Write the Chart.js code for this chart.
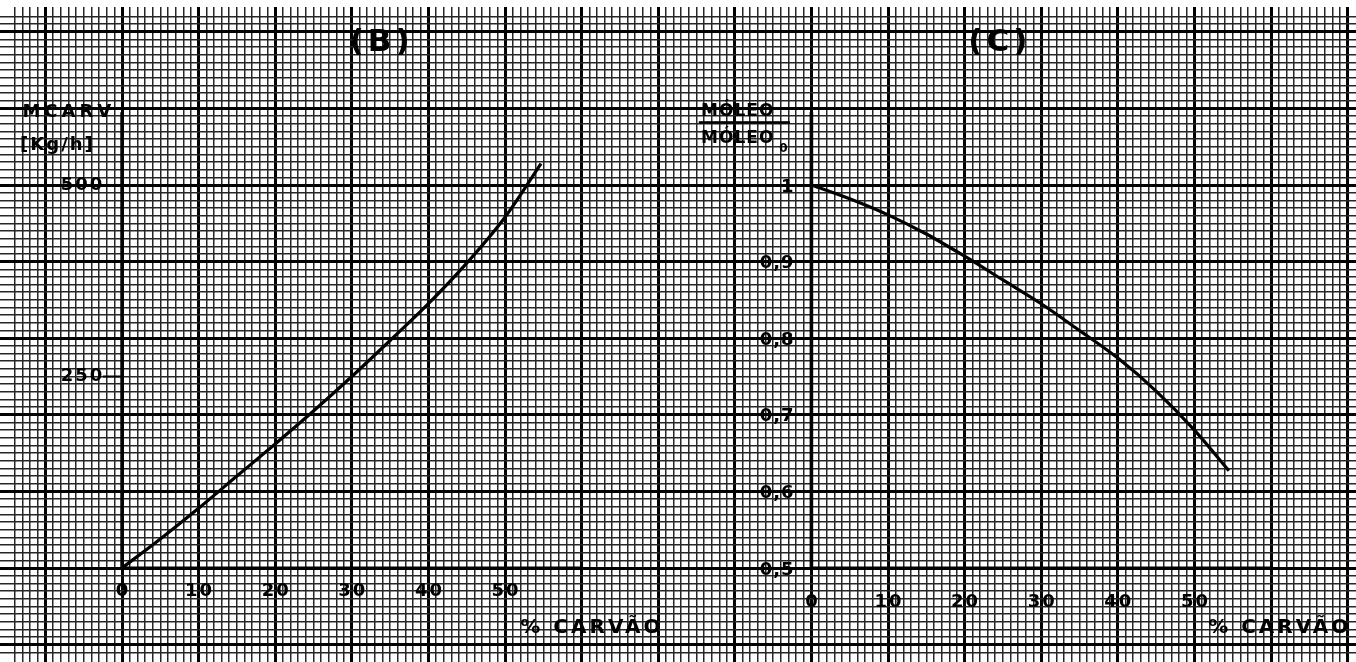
<!DOCTYPE html>
<html>
<head>
<meta charset="utf-8">
<title>(B) MCARV e (C) MÓLEO / MÓLEO0 x % CARVÃO</title>
<script src="https://cdn.jsdelivr.net/npm/chart.js@4.4.1/dist/chart.umd.min.js"></script>
<style>
    html, body { margin: 0; padding: 0; background: #fff; }
    #wrap { position: relative; width: 1356px; height: 662px; }
</style>
</head>
<body>
<div id="wrap"><canvas id="grafico"></canvas></div>
<script>
// (B) vazão de carvão [kg/h] x % carvão
const carvaoB = [0, 5, 10, 15, 20, 25, 30, 35, 40, 45, 50, 54.7];
const mcarv = [0, 38, 78, 120, 162, 205, 250, 297, 345, 398, 458, 528];

// (C) MÓLEO / MÓLEO0 x % carvão
const carvaoC = [0, 5, 10, 15, 20, 25, 30, 35, 40, 45, 50, 54.5];
const razaoOleo = [1.0, 0.982, 0.961, 0.936, 0.907, 0.876, 0.845, 0.81, 0.774, 0.731, 0.68, 0.627];

const ticksXB = [0, 10, 20, 30, 40, 50];
const ticksYB = [250, 500];
const ticksXC = [0, 10, 20, 30, 40, 50];
const ticksYC = [0.5, 0.6, 0.7, 0.8, 0.9, 1];
const rotulosYC = ['0,5', '0,6', '0,7', '0,8', '0,9', '1'];

// extensão dos eixos desenhados à mão
const eixoXB = [0, 60], eixoYB = [0, 595];
const eixoXC = [0, 60], eixoYC = [0.5, 1.095];

// papel milimetrado: px por mm e origem do gráfico (B)
const MM = 7.66;
const W = 1356, H = 662, TOPO = 7;
const origemB = { x: 122, y: 568 };
const mmEsq = -origemB.x / MM, mmDir = (W - origemB.x) / MM;
const mmBaixo = -(H - origemB.y) / MM, mmCima = (origemB.y - TOPO) / MM;
// (C) começa 9 cm à direita; 1 mm = 1 %, 10 kg/h (B) ou 0,01 (C)
const desvioC = 90;

const FONTE = '"DejaVu Sans"';

function pontos(xs, ys) {
    return xs.map(function(x, i) { return { x: x, y: ys[i] }; });
}

function segmento(p, q, eixoX, eixoY, largura) {
    return {
        data: [p, q],
        xAxisID: eixoX,
        yAxisID: eixoY,
        borderColor: '#000',
        borderWidth: largura,
        pointRadius: 0,
        borderCapStyle: 'butt'
    };
}

const datasets = [
    {
        label: 'MCARV',
        data: pontos(carvaoB, mcarv),
        xAxisID: 'xB', yAxisID: 'yB',
        borderColor: '#000', borderWidth: 3.2,
        pointRadius: 0, cubicInterpolationMode: 'monotone'
    },
    {
        label: 'MÓLEO / MÓLEO0',
        data: pontos(carvaoC, razaoOleo),
        xAxisID: 'xC', yAxisID: 'yC',
        borderColor: '#000', borderWidth: 3.2,
        pointRadius: 0, cubicInterpolationMode: 'monotone'
    },
    segmento({x: eixoXB[0], y: 0}, {x: eixoXB[1], y: 0}, 'xB', 'yB', 3),
    segmento({x: 0, y: eixoYB[0]}, {x: 0, y: eixoYB[1]}, 'xB', 'yB', 3.4),
    segmento({x: eixoXC[0], y: 0.5}, {x: eixoXC[1], y: 0.5}, 'xC', 'yC', 3),
    segmento({x: 0, y: eixoYC[0]}, {x: 0, y: eixoYC[1]}, 'xC', 'yC', 3.6)
];
ticksYB.forEach(function(v) { datasets.push(segmento({x: -2.5, y: v}, {x: 0, y: v}, 'xB', 'yB', 2)); });
ticksYC.forEach(function(v) { datasets.push(segmento({x: -2.2, y: v}, {x: 0, y: v}, 'xC', 'yC', 2)); });
ticksXB.slice(1).forEach(function(v) { datasets.push(segmento({x: v, y: 0}, {x: v, y: -14}, 'xB', 'yB', 2)); });
ticksXC.slice(1).forEach(function(v) { datasets.push(segmento({x: v, y: 0.5}, {x: v, y: 0.486}, 'xC', 'yC', 2)); });

function linhaPapel(ctx) {
    const v = ctx.tick.value;
    if (!Number.isInteger(v)) return 'rgba(0,0,0,0)';
    return v % 10 === 0 ? '#000' : '#262626';
}
function larguraPapel(ctx) {
    return ctx.tick.value % 10 === 0 ? 3 : 1.5;
}

function papel(min, max) {
    return {
        type: 'linear', min: min, max: max,
        ticks: { display: false, stepSize: 1, maxTicksLimit: 1000, autoSkip: false },
        border: { display: false },
        grid: { drawTicks: false, color: linhaPapel, lineWidth: larguraPapel }
    };
}
function oculto(min, max) {
    return { type: 'linear', display: false, min: min, max: max };
}

const rotulosPapel = {
    id: 'rotulosPapel',
    afterDatasetsDraw(chart) {
        const ctx = chart.ctx;
        const s = chart.scales;
        const px = function(e, v) { return s[e].getPixelForValue(v); };
        ctx.save();
        ctx.fillStyle = '#000';
        ctx.textBaseline = 'middle';

        ctx.font = 'bold 18px ' + FONTE;
        ctx.letterSpacing = '2px';
        ctx.textAlign = 'center';
        ticksXB.forEach(function(v) { ctx.fillText(String(v), px('xB', v) + 1, px('yB', -31)); });
        ticksXC.forEach(function(v) { ctx.fillText(String(v), px('xC', v) + 1, px('yC', 0.4556)); });
        ctx.textAlign = 'right';
        ticksYB.forEach(function(v) { ctx.fillText(String(v), px('xB', -2.3), px('yB', v)); });
        ctx.letterSpacing = '1px';
        ticksYC.forEach(function(v, i) { ctx.fillText(rotulosYC[i], px('xC', -2.2), px('yC', v) + 2); });

        ctx.textAlign = 'left';
        ctx.font = 'bold 20px ' + FONTE;
        ctx.letterSpacing = '3px';
        ctx.fillText('% CARVÃO', px('xB', 52), px('yB', -78));
        ctx.fillText('% CARVÃO', px('xC', 51.8), px('yC', 0.4217));

        ctx.font = 'bold 18px ' + FONTE;
        ctx.letterSpacing = '4px';
        ctx.fillText('MCARV', px('xB', -13), px('yB', 595));
        ctx.letterSpacing = '2px';
        ctx.fillText('[Kg/h]', px('xB', -13.3), px('yB', 552));

        ctx.font = 'bold 17px ' + FONTE;
        ctx.letterSpacing = '1px';
        ctx.fillText('MÓLEO', px('xC', -14.4), px('yC', 1.096));
        ctx.fillText('MÓLEO', px('xC', -14.4), px('yC', 1.061));
        ctx.font = 'bold 12px ' + FONTE;
        ctx.fillText('0', px('xC', -4.2), px('yC', 1.047));
        ctx.fillRect(px('xC', -14.7), px('yC', 1.082) - 1, px('xC', -2.8) - px('xC', -14.7), 2.5);

        ctx.textAlign = 'center';
        ctx.font = 'bold 31px ' + FONTE;
        ctx.letterSpacing = '4px';
        ctx.fillText('(B)', px('xB', 33.9), px('yB', 685));
        ctx.fillText('(C)', px('xC', 24.6), px('yC', 1.185));
        ctx.restore();
    }
};

new Chart(document.getElementById('grafico'), {
    type: 'line',
    data: { datasets: datasets },
    plugins: [rotulosPapel],
    options: {
        responsive: true,
        maintainAspectRatio: false,
        animation: false,
        layout: { padding: { top: TOPO } },
        plugins: { legend: { display: false }, tooltip: { enabled: false } },
        scales: {
            x: papel(mmEsq, mmDir),
            y: papel(mmBaixo, mmCima),
            xB: oculto(mmEsq, mmDir),
            yB: oculto(mmBaixo * 10, mmCima * 10),
            xC: oculto(mmEsq - desvioC, mmDir - desvioC),
            yC: oculto(0.5 + mmBaixo * 0.01, 0.5 + mmCima * 0.01)
        }
    }
});
</script>
</body>
</html>
